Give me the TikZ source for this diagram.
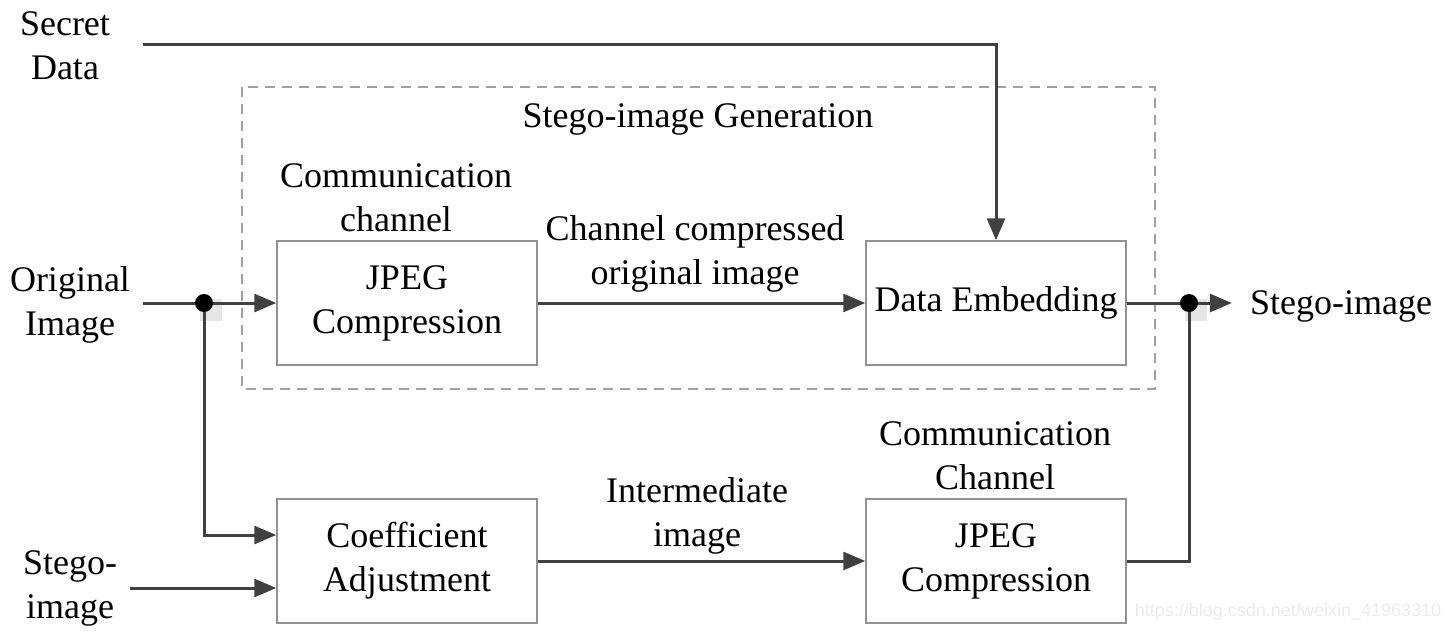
\documentclass[tikz,border=0pt]{standalone}
\usepackage{fontspec}
\setmainfont{Liberation Serif}
\newfontfamily\wmfont{Liberation Sans}
\usetikzlibrary{arrows.meta}
\definecolor{linec}{RGB}{64,64,64}
\definecolor{boxc}{RGB}{145,145,145}
\definecolor{dashc}{RGB}{160,160,160}
\begin{document}
\begin{tikzpicture}[x=1pt,y=-1pt,
  every node/.style={inner sep=0pt, align=center, font=\fontsize{36}{44}\selectfont},
  box/.style={draw=boxc, line width=1.5pt, minimum width=260pt, minimum height=124pt},
  conn/.style={line width=3pt, draw=linec},
  arr/.style={conn, -{Triangle[length=22pt,width=18pt]}},
  dot/.style={fill=black}]
\useasboundingbox (0,0) rectangle (1452,632);
% dashed frame
\draw[dashc, line width=1.5pt, dash pattern=on 10pt off 7pt] (242,87) rectangle (1155,389);
% boxes
\node[box] (jpeg1) at (407,303) {JPEG\\Compression};
\node[box] (embed) at (996,303) {Data Embedding};
\node[box] (coef)  at (407,561) {Coefficient\\Adjustment};
\node[box] (jpeg2) at (996,561) {JPEG\\Compression};
% labels
\node (gen)   at (698,119) {Stego-image Generation};
\node (cc1)   at (396,198) {Communication\\channel};
\node (ccoi)  at (695,254) {Channel compressed\\original image};
\node (cc2)   at (995,456) {Communication\\Channel};
\node (inter) at (697,516) {Intermediate\\image};
\node (orig)  at (70,305) {Original\\Image};
\node (secret) at (65,46) {Secret\\Data};
\node (stegoin) at (70,588) {Stego-\\image};
\node (stegoout) at (1341,306) {Stego-image};
\node[font=\wmfont\fontsize{18}{20}\selectfont, text=black!8] (wm) at (1288,612) {https://blog.csdn.net/weixin\_41963310};
% coordinates
\coordinate (j1) at (204,303);
\coordinate (j2) at (1189,303);
\coordinate (os) at (143,303);
\coordinate (sd) at (143,44);
\coordinate (sin) at (130,588);
% shadow artifacts
\fill[black!10] (200,299) rectangle (222,321);
\fill[black!10] (1185,299) rectangle (1207,321);
% connectors
\draw[arr] (os) -- (jpeg1.west);
\draw[arr] (j1) |- ([yshift=26pt]coef.west);
\draw[arr] (sin) -- (sin -| coef.west);
\draw[arr] (sd) -| (embed.north);
\draw[arr] (jpeg1.east) -- (embed.west);
\draw[arr] (coef.east) -- (jpeg2.west);
\draw[conn] (jpeg2.east) -| (j2);
\draw[arr, shorten >=18pt] (embed.east) -- (stegoout.west |- embed.east);
\fill[dot] (j1) circle (9pt);
\fill[dot] (j2) circle (9pt);
\end{tikzpicture}
\end{document}
